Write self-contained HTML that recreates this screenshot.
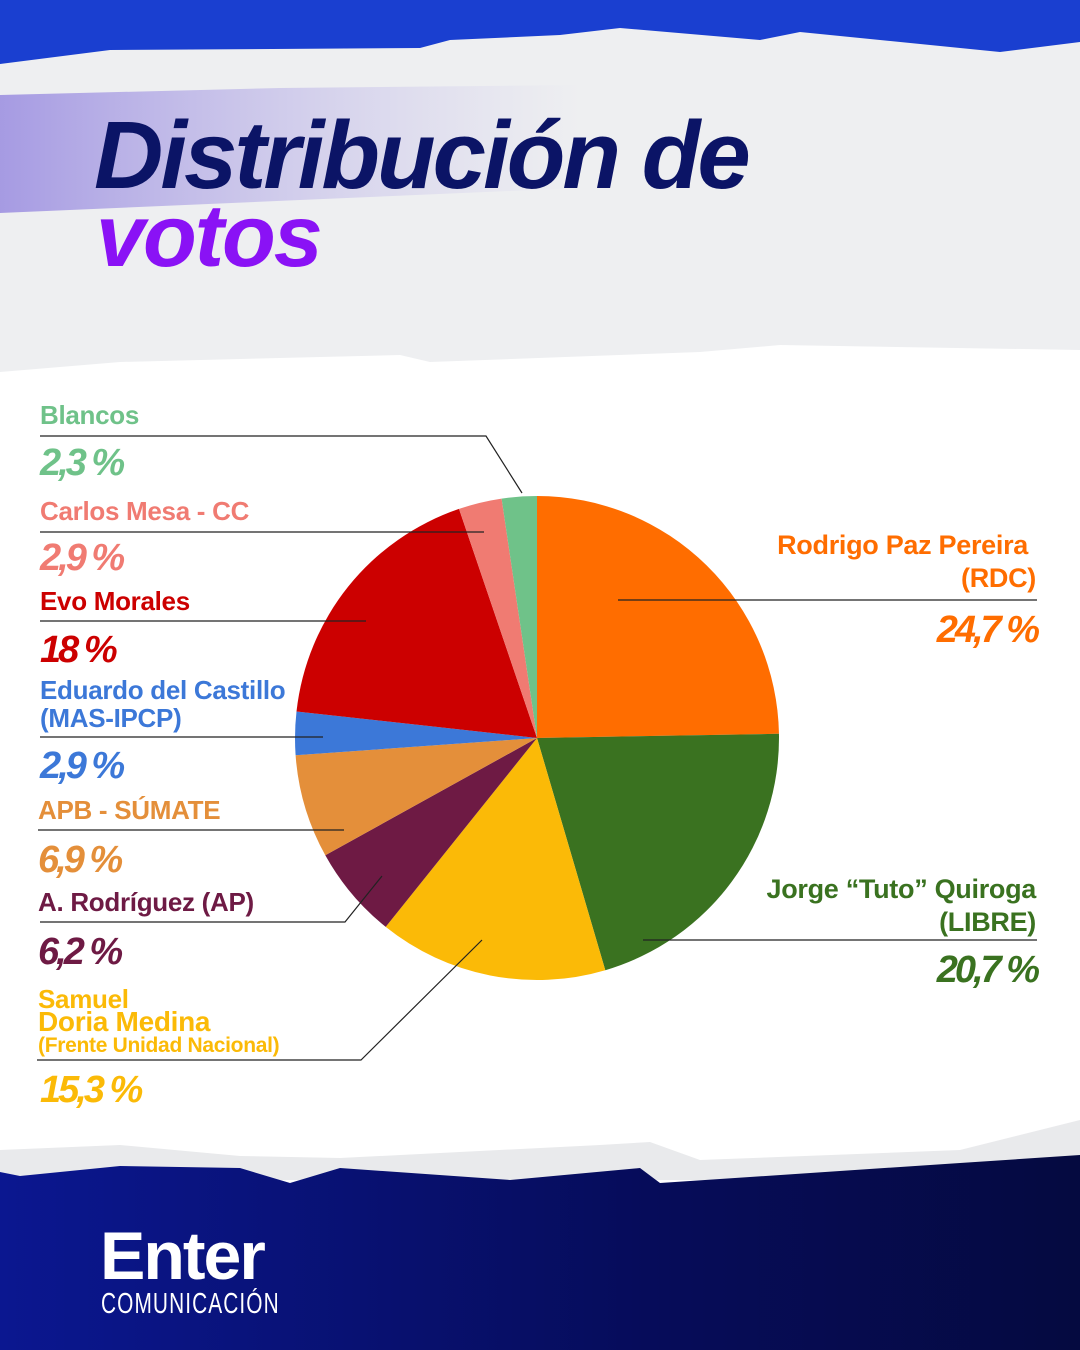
<!DOCTYPE html>
<html><head><meta charset="utf-8"><style>
html,body{margin:0;padding:0;}
body{width:1080px;height:1350px;position:relative;overflow:hidden;background:#fff;font-family:"Liberation Sans",sans-serif;}
svg{position:absolute;left:0;top:0;}
.t{font-weight:bold;letter-spacing:-0.3px;}
.p{font-weight:bold;font-style:italic;}
</style></head><body>
<svg width="1080" height="1350" viewBox="0 0 1080 1350">
<defs>
<linearGradient id="nv" x1="0" y1="0" x2="1" y2="0"><stop offset="0" stop-color="#0b1790"/><stop offset="0.6" stop-color="#060c5a"/><stop offset="1" stop-color="#050a40"/></linearGradient>
<linearGradient id="dots" x1="0" y1="0" x2="1" y2="0"><stop offset="0" stop-color="#4a2fd0" stop-opacity="0.8"/><stop offset="1" stop-color="#8a7ae0" stop-opacity="0"/></linearGradient>
</defs>
<rect x="0" y="0" width="1080" height="1350" fill="#fff"/>
<rect x="0" y="0" width="1080" height="90" fill="#1a3fd0"/>
<polygon points="0,64 110,50 420,48 450,40 560,35 620,28 760,40 800,32 1000,52 1080,42 1080,380 0,380" fill="#eeeff1"/>
<polygon points="0,372 120,362 400,355 430,362 700,352 780,345 1080,350 1080,1350 0,1350" fill="#fff"/>
<polygon points="0,95 280,88 580,85 580,188 300,200 0,213" fill="url(#dots)" opacity="0.55"/>
<polygon points="0,1150 120,1145 240,1156 340,1158 600,1145 650,1142 700,1160 960,1150 1080,1120 1080,1180 0,1180" fill="#e9eaec"/>
<polygon points="0,1172 20,1176 120,1166 240,1168 290,1183 340,1168 510,1180 640,1168 660,1183 960,1163 1080,1155 1080,1350 0,1350" fill="url(#nv)"/>
<text x="94" y="188" font-family="Liberation Sans" font-weight="bold" font-style="italic" font-size="96" fill="#0b1466" letter-spacing="-3">Distribución de</text>
<text x="96" y="266" font-family="Liberation Sans" font-weight="bold" font-style="italic" font-size="88" fill="#8a12f5" letter-spacing="-2">votos</text>
<g transform="translate(537,738)">
<path d="M0,0 L0,-242 A242,242 0 0,1 241.96,-4.2 Z" fill="#ff6d00"/>
<path d="M0,0 L241.96,-4.2 A242,242 0 0,1 68.3,232.2 Z" fill="#3a7220"/>
<path d="M0,0 L68.3,232.2 A242,242 0 0,1 -151.3,188.9 Z" fill="#fbba07"/>
<path d="M0,0 L-151.3,188.9 A242,242 0 0,1 -211.7,117.3 Z" fill="#6e1a44"/>
<path d="M0,0 L-211.7,117.3 A242,242 0 0,1 -241.4,17.3 Z" fill="#e48f3a"/>
<path d="M0,0 L-241.4,17.3 A242,242 0 0,1 -240.5,-26.5 Z" fill="#3c78d8"/>
<path d="M0,0 L-240.5,-26.5 A242,242 0 0,1 -78,-229.1 Z" fill="#cc0000"/>
<path d="M0,0 L-78,-229.1 A242,242 0 0,1 -35.4,-239.4 Z" fill="#f07b72"/>
<path d="M0,0 L-35.4,-239.4 A242,242 0 0,1 0,-242 Z" fill="#6fc289"/>
</g>
<g stroke="#222" stroke-width="1.2" fill="none">
<polyline points="40,436 486,436 522,493"/>
<polyline points="40,532 484,532"/>
<polyline points="40,621 366,621"/>
<polyline points="40,737 323,737"/>
<polyline points="38,830 344,830"/>
<polyline points="40,922 345,922 382,876"/>
<polyline points="37,1060 361,1060 482,940"/>
<polyline points="618,600 1037,600"/>
<polyline points="643,940 1037,940"/>
</g>
<g font-size="26">
<text x="40" y="424" fill="#6fc289" class="t">Blancos</text>
<text x="40" y="520" fill="#f07b72" class="t">Carlos Mesa - CC</text>
<text x="40" y="610" fill="#cc0000" class="t">Evo Morales</text>
<text x="40" y="699" fill="#3c78d8" class="t">Eduardo del Castillo</text>
<text x="40" y="727" fill="#3c78d8" class="t">(MAS-IPCP)</text>
<text x="38" y="819" fill="#e48f3a" class="t">APB - SÚMATE</text>
<text x="38" y="911" fill="#6e1a44" class="t">A. Rodríguez (AP)</text>
<text x="38" y="1008" fill="#fbba07" class="t">Samuel</text>
<text x="38" y="1031" fill="#fbba07" class="t" font-size="28">Doria Medina</text>
<text x="38" y="1052" fill="#fbba07" class="t" font-size="21">(Frente Unidad Nacional)</text>
<text x="1028" y="554" fill="#ff6d00" class="t" text-anchor="end" font-size="27">Rodrigo Paz Pereira</text>
<text x="1036" y="587" fill="#ff6d00" class="t" text-anchor="end" font-size="27">(RDC)</text>
<text x="1036" y="898" fill="#3a7220" class="t" text-anchor="end" font-size="27">Jorge “Tuto” Quiroga</text>
<text x="1036" y="931" fill="#3a7220" class="t" text-anchor="end" font-size="27">(LIBRE)</text>
</g>
<g font-size="38" letter-spacing="-3">
<text x="40" y="475" fill="#6fc289" class="p">2,3 %</text>
<text x="40" y="570" fill="#f07b72" class="p">2,9 %</text>
<text x="40" y="662" fill="#cc0000" class="p">18 %</text>
<text x="40" y="778" fill="#3c78d8" class="p">2,9 %</text>
<text x="38" y="872" fill="#e48f3a" class="p">6,9 %</text>
<text x="38" y="964" fill="#6e1a44" class="p">6,2 %</text>
<text x="40" y="1102" fill="#fbba07" class="p">15,3 %</text>
<text x="1037" y="642" fill="#ff6d00" class="p" text-anchor="end">24,7 %</text>
<text x="1037" y="982" fill="#3a7220" class="p" text-anchor="end">20,7 %</text>
</g>
<text x="100" y="1279" font-family="Liberation Sans" font-weight="bold" font-size="68" fill="#fff" letter-spacing="-2">Enter</text>
<text x="101" y="1313" font-family="Liberation Sans" font-size="29" fill="#fff" transform="translate(101,0) scale(0.72,1) translate(-101,0)" letter-spacing="1.5">COMUNICACIÓN</text>
</svg>
</body></html>
